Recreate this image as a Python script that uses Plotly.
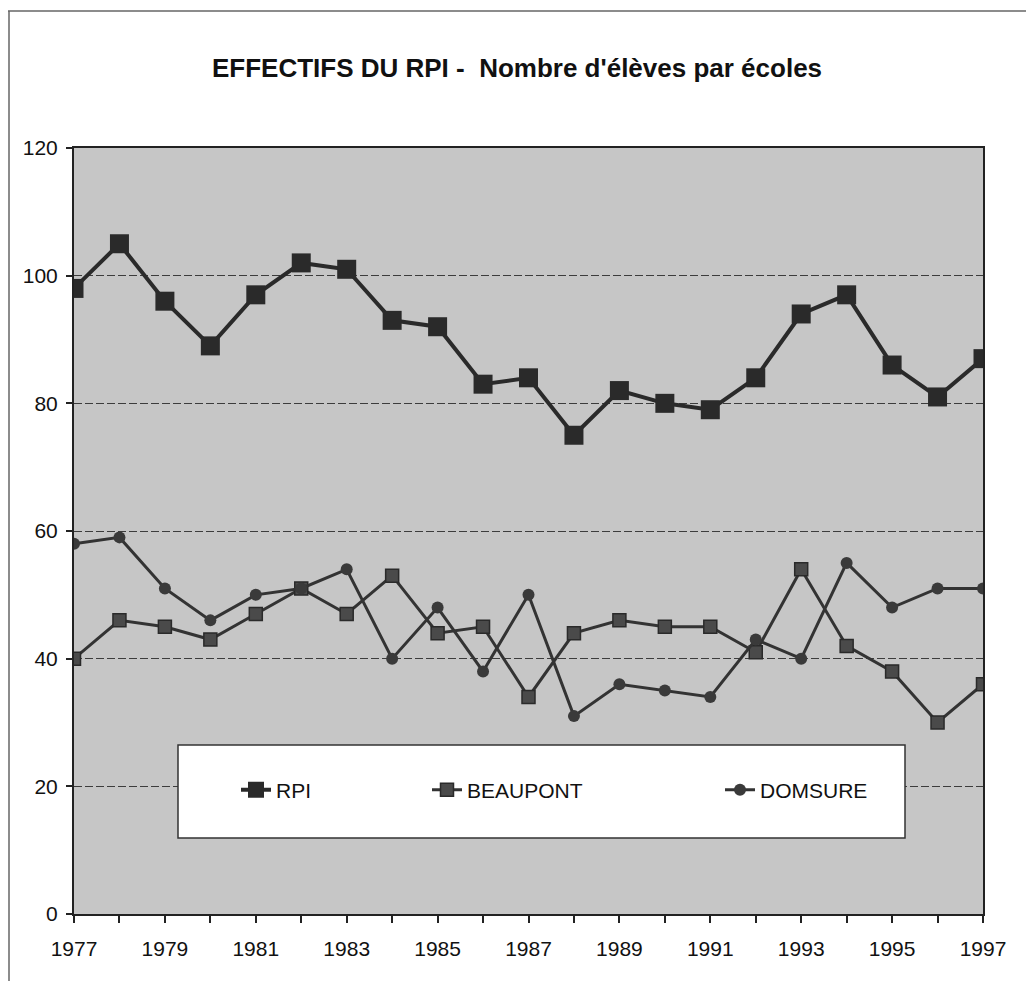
import plotly.graph_objects as go

years = list(range(1977, 1998))
rpi = [98, 105, 96, 89, 97, 102, 101, 93, 92, 83, 84, 75, 82, 80, 79, 84, 94, 97, 86, 81, 87]
beaupont = [40, 46, 45, 43, 47, 51, 47, 53, 44, 45, 34, 44, 46, 45, 45, 41, 54, 42, 38, 30, 36]
domsure = [58, 59, 51, 46, 50, 51, 54, 40, 48, 38, 50, 31, 36, 35, 34, 43, 40, 55, 48, 51, 51]
series_names = ["RPI", "BEAUPONT", "DOMSURE"]
title_text = "EFFECTIFS DU RPI -  Nombre d'élèves par écoles"

FONT = "Liberation Sans, Arial, sans-serif"
# page body has an 8px margin: figure coordinates are screen coordinates minus 8
OFF = 8
W, H = 1018, 973
L, T = 66, 140
PW, PH = 909, 766
R, B = W - L - PW, H - T - PH

def px(x_screen):
    return (x_screen - OFF - L) / PW

def py(y_screen):
    return (T + PH - (y_screen - OFF)) / PH

fig = go.Figure()
fig.add_trace(go.Scatter(
    x=years, y=rpi, name=series_names[0], mode="lines+markers",
    line=dict(color="#2a2a2a", width=4),
    marker=dict(symbol="square", size=19, color="#2a2a2a"),
    legend="legend"))
fig.add_trace(go.Scatter(
    x=years, y=beaupont, name=series_names[1], mode="lines+markers",
    line=dict(color="#333333", width=3),
    marker=dict(symbol="square", size=13, color="#4a4a4a", line=dict(color="#2a2a2a", width=1.5)),
    legend="legend2"))
fig.add_trace(go.Scatter(
    x=years, y=domsure, name=series_names[2], mode="lines+markers",
    line=dict(color="#333333", width=3),
    marker=dict(symbol="circle", size=12, color="#3a3a3a"),
    legend="legend3"))

legend_common = dict(bgcolor="rgba(0,0,0,0)", borderwidth=0, orientation="h",
                     yanchor="middle", xanchor="left",
                     font=dict(family=FONT, size=21, color="#111"), itemsizing="trace")
fig.update_layout(
    width=W, height=H,
    margin=dict(l=L, r=R, t=T, b=B),
    paper_bgcolor="white",
    plot_bgcolor="#c6c6c6",
    showlegend=True,
    title=dict(text="<b>" + title_text + "</b>", x=(517 - OFF) / W, xref="container", xanchor="center",
               y=1 - (68 - OFF) / H, yref="container", yanchor="middle",
               font=dict(family=FONT, size=26, color="#111")),
    legend=dict(x=px(236), y=py(790), **legend_common),
    legend2=dict(x=px(427), y=py(790), **legend_common),
    legend3=dict(x=px(720), y=py(790), **legend_common),
    xaxis=dict(range=[1977, 1997], tickmode="linear", tick0=1977, dtick=2,
               ticks="outside", ticklen=7, tickwidth=1.5, tickcolor="#222",
               minor=dict(dtick=1, ticks="outside", ticklen=7, tickwidth=1.5, tickcolor="#222", showgrid=False),
               showgrid=False, zeroline=False,
               showline=True, linecolor="#222", linewidth=2, mirror=True,
               ticklabelstandoff=8,
               tickfont=dict(family=FONT, size=21, color="#111")),
    yaxis=dict(range=[0, 120], tickmode="linear", tick0=0, dtick=20,
               ticks="outside", ticklen=6, tickwidth=1.5, tickcolor="#222",
               showgrid=True, gridcolor="#3c3c3c", gridwidth=1, griddash="8px,3px",
               zeroline=False,
               showline=True, linecolor="#222", linewidth=2, mirror=True,
               ticklabelstandoff=4,
               tickfont=dict(family=FONT, size=21, color="#111")),
    shapes=[
        # legend box
        dict(type="rect", xref="paper", yref="paper",
             x0=px(178), x1=px(905), y0=py(838), y1=py(745),
             fillcolor="white", line=dict(color="#333", width=1.5), layer="above"),
        # outer chart frame (top and left edges)
        dict(type="line", xref="paper", yref="paper",
             x0=px(8), x1=px(1034), y0=py(11), y1=py(11),
             line=dict(color="#666", width=1.5)),
        dict(type="line", xref="paper", yref="paper",
             x0=px(9), x1=px(9), y0=py(11), y1=py(989),
             line=dict(color="#666", width=1.5)),
    ],
)

fig.write_html("out.html")
